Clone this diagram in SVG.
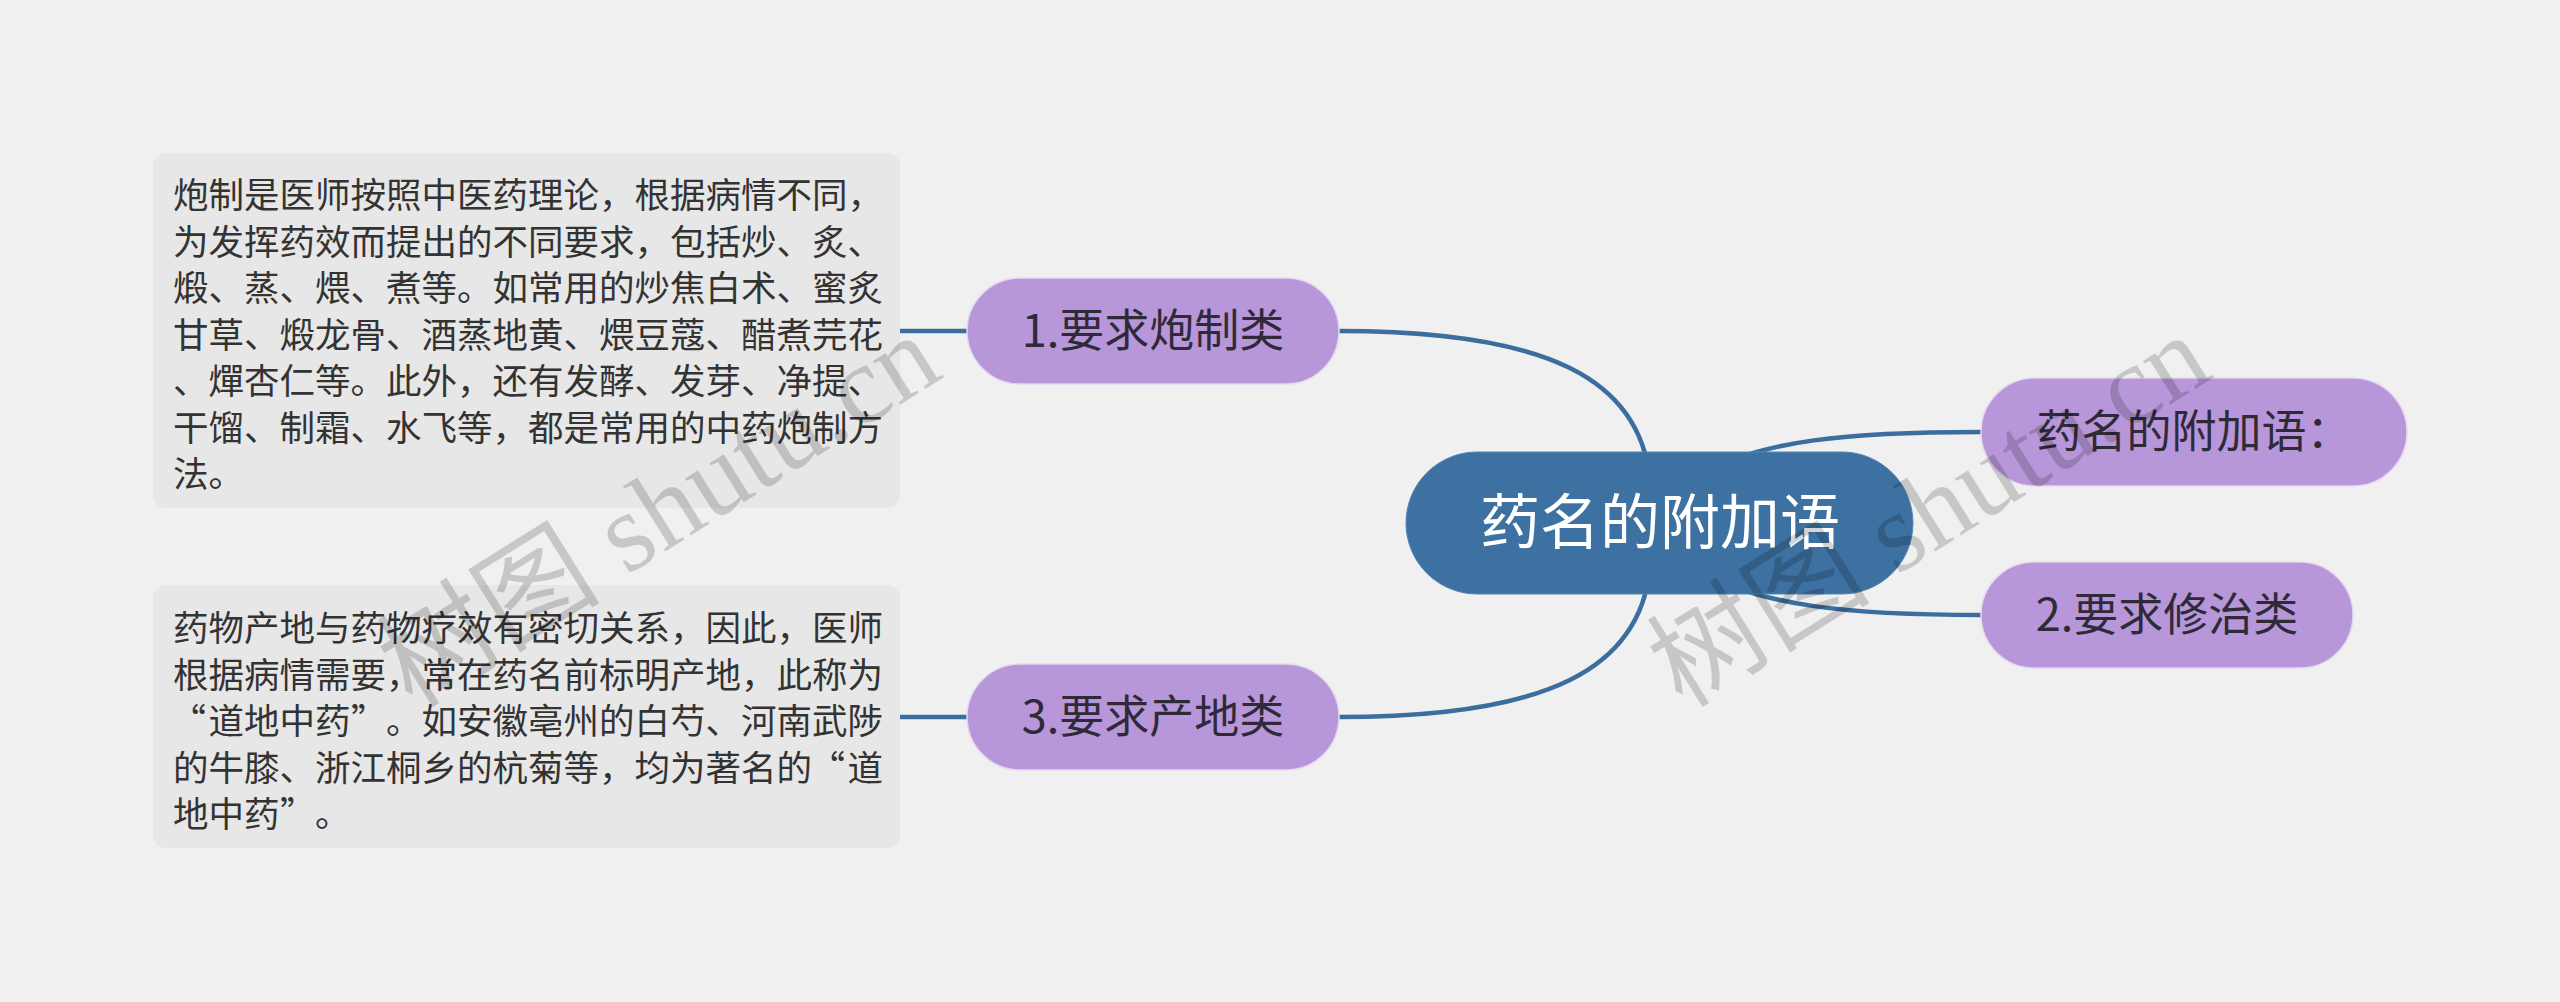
<svg xmlns="http://www.w3.org/2000/svg" width="2560" height="1002" viewBox="0 0 2560 1002">
<style>
.bg{fill:#f0f0f0}
.box{fill:#e7e7e7}
.btxt{font-family:"Noto Sans CJK SC","Noto Sans",sans-serif;font-size:35.5px;fill:#333}
.q{text-anchor:end}
.sub{fill:#b796d9;stroke:#e4d8f0;stroke-width:1.5}
.stxt{font-family:"Noto Sans CJK SC","Noto Sans",sans-serif;font-size:45px;fill:#2f2a38;text-anchor:middle}
.root{fill:#3d71a1;stroke:#5585b2;stroke-width:1}
.rtxt{font-family:"Noto Sans CJK SC","Noto Sans",sans-serif;font-size:60px;fill:#ffffff;text-anchor:middle}
.ln{fill:none;stroke:#3b6d9e;stroke-width:4.5;stroke-linecap:round}
.wm{font-family:"Liberation Serif","Noto Sans CJK SC",serif;font-size:112px;fill:#000;fill-opacity:0.17}
</style>
<rect class="bg" x="0" y="0" width="2560" height="1002"/>
<g id="connectors">
<path class="ln" d="M900,331 L967,331"/>
<path class="ln" d="M900,717 L967,717"/>
<path class="ln" d="M1339,331 C1550,331 1640,380 1650,480"/>
<path class="ln" d="M1339,717 C1550,717 1640,668 1650,568"/>
<path class="ln" d="M1700,475 C1760,440 1850,432 1981,432"/>
<path class="ln" d="M1700,571 C1760,606 1850,615 1981,615"/>
</g>
<g id="note1">
<rect class="box" x="153" y="153" width="747" height="355" rx="13"/>
<text class="btxt" x="173" y="208">炮制是医师按照中医药理论，根据病情不同，</text>
<text class="btxt" x="173" y="254.5">为发挥药效而提出的不同要求，包括炒、炙、</text>
<text class="btxt" x="173" y="301">煅、蒸、煨、煮等。如常用的炒焦白术、蜜炙</text>
<text class="btxt" x="173" y="347.5">甘草、煅龙骨、酒蒸地黄、煨豆蔻、醋煮芫花</text>
<text class="btxt" x="173" y="394">、燀杏仁等。此外，还有发酵、发芽、净提、</text>
<text class="btxt" x="173" y="440.5">干馏、制霜、水飞等，都是常用的中药炮制方</text>
<text class="btxt" x="173" y="487">法。</text>
</g>
<g id="note3">
<rect class="box" x="153" y="585" width="747" height="263" rx="13"/>
<text class="btxt" x="173" y="641">药物产地与药物疗效有密切关系，因此，医师</text>
<text class="btxt" x="173" y="687.5">根据病情需要，常在药名前标明产地，此称为</text>
<text class="btxt q" x="206" y="734">“</text>
<text class="btxt" y="734"><tspan x="208.5">道地中药</tspan><tspan x="351">”</tspan><tspan x="386">。如安徽亳州的白芍、河南武陟</tspan></text>
<text class="btxt" x="173" y="780.5">的牛膝、浙江桐乡的杭菊等，均为著名的</text>
<text class="btxt q" x="845" y="780.5">“</text>
<text class="btxt" x="847.5" y="780.5">道</text>
<text class="btxt" y="827"><tspan x="173">地中药</tspan><tspan x="280">”</tspan><tspan x="315">。</tspan></text>
</g>
<g id="node1">
<rect class="sub" x="967" y="278" width="372" height="106" rx="53"/>
<text class="stxt" x="1153" y="347">1.要求炮制类</text>
</g>
<g id="node3">
<rect class="sub" x="967" y="664" width="372" height="106" rx="53"/>
<text class="stxt" x="1153" y="733">3.要求产地类</text>
</g>
<g id="root">
<rect class="root" x="1406" y="452" width="507" height="142" rx="71"/>
<text class="rtxt" x="1660" y="544">药名的附加语</text>
</g>
<g id="node0">
<rect class="sub" x="1981" y="378" width="426" height="108" rx="54"/>
<text class="stxt" x="2194" y="448">药名的附加语：</text>
</g>
<g id="node2">
<rect class="sub" x="1981" y="562" width="372" height="106" rx="53"/>
<text class="stxt" x="2167" y="631">2.要求修治类</text>
</g>
<g id="watermarks">
<text class="wm" x="661" y="548" text-anchor="middle" transform="rotate(-32 661 514)">树图 shutu.cn</text>
<text class="wm" x="1931" y="548" text-anchor="middle" transform="rotate(-32 1931 514)">树图 shutu.cn</text>
</g>
</svg>
